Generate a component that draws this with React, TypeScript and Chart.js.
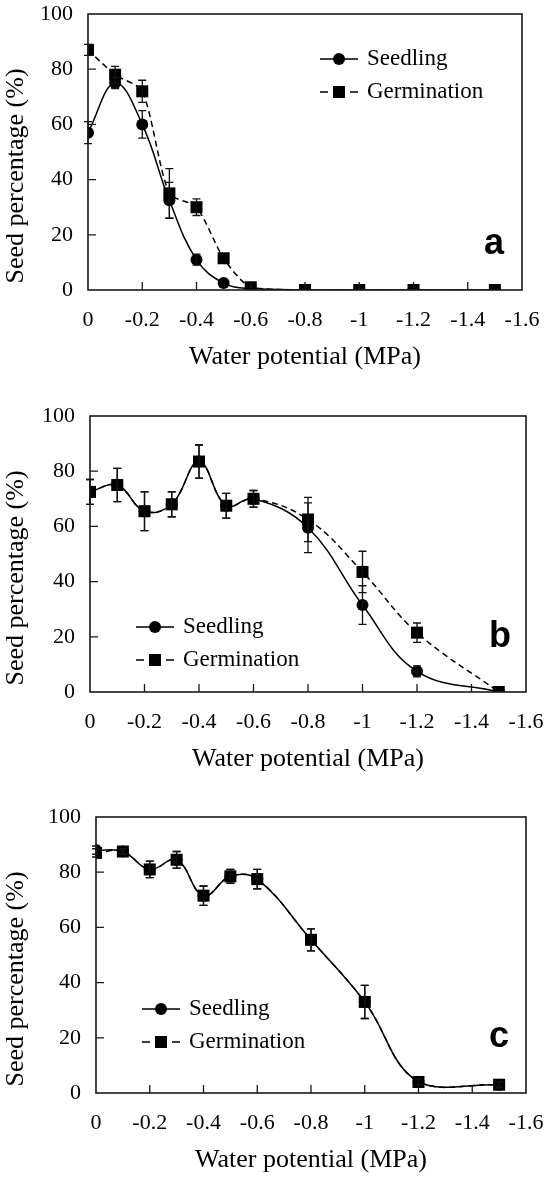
import React, { useEffect, useRef } from 'react';
import { Chart, registerables } from 'chart.js';

Chart.register(...registerables);

// water potential (MPa) at which seeds were tested
const waterPotential = [0, -0.1, -0.2, -0.3, -0.4, -0.5, -0.6, -0.8, -1, -1.2, -1.5];
const xTickValues = [0, -0.2, -0.4, -0.6, -0.8, -1, -1.2, -1.4, -1.6];
const yTickValues = [0, 20, 40, 60, 80, 100];

// panel a
const seedlingA = [57, 75, 60, 32.5, 11, 2.5, 0.5, 0, 0, 0, 0];
const seedlingErrA = [4, 2, 5, 6.5, 2, 0, 0, 0, 0, 0, 0];
const germinationA = [87, 78, 72, 35, 30, 11.5, 1, 0, 0, 0, 0];
const germinationErrA = [2, 3, 4, 9, 3, 0, 0, 0, 0, 0, 0];

// panel b
const seedlingB = [72.5, 75, 65.5, 68, 83.5, 67.5, 70, 59.5, 31.5, 7.5, 0];
const seedlingErrB = [4.5, 6, 7, 4.5, 6, 4.5, 3, 9, 7, 2, 0];
const germinationB = [72.5, 75, 65.5, 68, 83.5, 67.5, 70, 62.5, 43.5, 21.5, 0];
const germinationErrB = [4.5, 6, 7, 4.5, 6, 4.5, 3, 8, 7.5, 3.5, 0];

// panel c
const seedlingC = [88, 87.5, 81, 84.5, 71.5, 78.5, 77.5, 55.5, 33, 4, 3];
const seedlingErrC = [1.5, 1, 3, 3, 3.5, 2.5, 3.5, 4, 6, 1, 1];
const germinationC = [87, 87.5, 81, 84.5, 71.5, 78.5, 77.5, 55.5, 33, 4, 3];
const germinationErrC = [1.5, 1, 3, 3, 3.5, 2.5, 3.5, 4, 6, 1, 1];

const seriesNames = ['Seedling', 'Germination'];
const xTitle = 'Water potential (MPa)';
const yTitle = 'Seed percentage (%)';

const SERIF = '"Liberation Serif", "Times New Roman", serif';
const INK = '#111';

const panelPlugin = {
  id: 'panel',
  afterDatasetsDraw(chart: any, _args: any, opts: any) {
    const { ctx, chartArea } = chart;
    const xs = chart.scales.x;
    const ys = chart.scales.y;
    const { left, right, top, bottom } = chartArea;

    ctx.save();
    // error bars
    ctx.strokeStyle = INK;
    ctx.lineWidth = 1.3;
    ctx.setLineDash([]);
    chart.data.datasets.forEach((ds: any, i: number) => {
      const meta = chart.getDatasetMeta(i);
      (ds.errors || []).forEach((e: number, j: number) => {
        if (!e) return;
        const pt = meta.data[j];
        const v = ds.data[j].y;
        const y1 = ys.getPixelForValue(v + e);
        const y2 = ys.getPixelForValue(Math.max(v - e, 0));
        ctx.beginPath();
        ctx.moveTo(pt.x, y1);
        ctx.lineTo(pt.x, y2);
        ctx.moveTo(pt.x - 4, y1);
        ctx.lineTo(pt.x + 4, y1);
        ctx.moveTo(pt.x - 4, y2);
        ctx.lineTo(pt.x + 4, y2);
        ctx.stroke();
      });
    });

    // frame and inward ticks
    ctx.lineWidth = 1.6;
    ctx.strokeStyle = '#1a1a1a';
    ctx.strokeRect(left, top, right - left, bottom - top);
    ctx.lineWidth = 1.3;
    ctx.beginPath();
    xTickValues.forEach((v) => {
      const px = xs.getPixelForValue(v);
      if (px <= left + 1 || px >= right - 1) return;
      ctx.moveTo(px, bottom);
      ctx.lineTo(px, bottom - 8);
    });
    yTickValues.forEach((v) => {
      const py = ys.getPixelForValue(v);
      if (py <= top + 1 || py >= bottom - 1) return;
      ctx.moveTo(left, py);
      ctx.lineTo(left + 8, py);
    });
    ctx.stroke();

    // axis titles
    ctx.fillStyle = '#000';
    ctx.font = `26px ${SERIF}`;
    ctx.textAlign = 'center';
    ctx.textBaseline = 'middle';
    ctx.fillText(xTitle, (left + right) / 2, bottom + 67);
    ctx.save();
    ctx.translate(16, top + 162);
    ctx.rotate(-Math.PI / 2);
    ctx.fillText(yTitle, 0, 0);
    ctx.restore();

    // legend
    const lx = opts.legendX;
    const ly = opts.legendY;
    ctx.strokeStyle = '#000';
    ctx.fillStyle = '#000';
    ctx.lineWidth = 1.5;
    ctx.beginPath();
    ctx.moveTo(lx, ly);
    ctx.lineTo(lx + 38, ly);
    ctx.stroke();
    ctx.beginPath();
    ctx.arc(lx + 19, ly, 6, 0, Math.PI * 2);
    ctx.fill();
    const gy = ly + 33;
    ctx.beginPath();
    ctx.moveTo(lx, gy);
    ctx.lineTo(lx + 8, gy);
    ctx.moveTo(lx + 30, gy);
    ctx.lineTo(lx + 38, gy);
    ctx.stroke();
    ctx.fillRect(lx + 13, gy - 6, 12, 12);
    ctx.font = `23px ${SERIF}`;
    ctx.textAlign = 'left';
    ctx.textBaseline = 'middle';
    ctx.fillText(seriesNames[0], lx + 47, ly);
    ctx.fillText(seriesNames[1], lx + 47, gy);

    // panel letter
    ctx.font = 'bold 36px "Liberation Sans", Arial, sans-serif';
    ctx.textAlign = 'center';
    ctx.textBaseline = 'alphabetic';
    ctx.fillText(opts.letter, opts.letterX, opts.letterY);
    ctx.restore();
  },
};

type PanelProps = {
  seedling: number[];
  seedlingErr: number[];
  germination: number[];
  germinationErr: number[];
  germTension: number;
  top: number;
  height: number;
  yAxisWidth: number;
  rightPad: number;
  legendX: number;
  legendY: number;
  letter: string;
  letterX: number;
  letterY: number;
};

const Panel: React.FC<PanelProps> = (p) => {
  const canvasRef = useRef<HTMLCanvasElement | null>(null);

  useEffect(() => {
    if (!canvasRef.current) return;
    const chart = new Chart(canvasRef.current, {
      type: 'line',
      data: {
        datasets: [
          {
            label: seriesNames[0],
            data: waterPotential.map((x, i) => ({ x, y: p.seedling[i] })),
            borderColor: '#000',
            backgroundColor: '#000',
            borderWidth: 1.5,
            pointStyle: 'circle',
            pointRadius: 6,
            pointBorderWidth: 0,
            tension: 0.4,
            order: 1,
            errors: p.seedlingErr,
          } as any,
          {
            label: seriesNames[1],
            data: waterPotential.map((x, i) => ({ x, y: p.germination[i] })),
            borderColor: '#000',
            backgroundColor: '#000',
            borderWidth: 1.5,
            borderDash: [6, 4],
            pointStyle: 'rect',
            pointRadius: 8.5,
            pointBorderWidth: 0,
            tension: p.germTension,
            order: 0,
            errors: p.germinationErr,
          } as any,
        ],
      },
      options: {
        responsive: false,
        animation: false,
        layout: { padding: { top: 14, right: p.rightPad, left: 0, bottom: 0 } },
        plugins: {
          legend: { display: false },
          tooltip: { enabled: false },
          panel: {
            legendX: p.legendX,
            legendY: p.legendY,
            letter: p.letter,
            letterX: p.letterX,
            letterY: p.letterY,
          },
        } as any,
        scales: {
          x: {
            type: 'linear',
            min: -1.6,
            max: 0,
            reverse: true,
            grid: { display: false, drawTicks: true, tickLength: 17 },
            border: { display: false },
            afterBuildTicks: (scale: any) => {
              scale.ticks = xTickValues.map((value) => ({ value }));
            },
            afterFit: (scale: any) => {
              scale.height = p.height - 14 - 276;
            },
            ticks: {
              color: '#000',
              padding: 0,
              maxRotation: 0,
              font: { family: SERIF, size: 22 },
              callback: (v: any) => String(Number(Number(v).toFixed(1))),
            },
          },
          y: {
            min: 0,
            max: 100,
            grid: { display: false, drawTicks: true, tickLength: 15 },
            border: { display: false },
            afterBuildTicks: (scale: any) => {
              scale.ticks = yTickValues.map((value) => ({ value }));
            },
            afterFit: (scale: any) => {
              scale.width = p.yAxisWidth;
            },
            ticks: {
              color: '#000',
              padding: 0,
              font: { family: SERIF, size: 22 },
            },
          },
        },
      },
      plugins: [panelPlugin],
    });
    return () => chart.destroy();
  }, []);

  return (
    <div style={{ position: 'absolute', left: 0, top: p.top, width: 550, height: p.height }}>
      <canvas ref={canvasRef} width={550} height={p.height} style={{ width: 550, height: p.height }} />
    </div>
  );
};

const App: React.FC = () => {
  return (
    <div style={{ position: 'absolute', left: 0, top: 0, width: 550, height: 1179, background: '#fff' }}>
      <Panel
        seedling={seedlingA}
        seedlingErr={seedlingErrA}
        germination={germinationA}
        germinationErr={germinationErrA}
        germTension={0.25}
        top={0}
        height={400}
        yAxisWidth={88}
        rightPad={28}
        legendX={320}
        legendY={59}
        letter="a"
        letterX={494}
        letterY={254}
      />
      <Panel
        seedling={seedlingB}
        seedlingErr={seedlingErrB}
        germination={germinationB}
        germinationErr={germinationErrB}
        germTension={0.4}
        top={402}
        height={400}
        yAxisWidth={90}
        rightPad={24}
        legendX={136}
        legendY={225}
        letter="b"
        letterX={500}
        letterY={245}
      />
      <Panel
        seedling={seedlingC}
        seedlingErr={seedlingErrC}
        germination={germinationC}
        germinationErr={germinationErrC}
        germTension={0.4}
        top={803}
        height={376}
        yAxisWidth={96}
        rightPad={24}
        legendX={142}
        legendY={206}
        letter="c"
        letterX={499}
        letterY={244}
      />
    </div>
  );
};

export default App;
